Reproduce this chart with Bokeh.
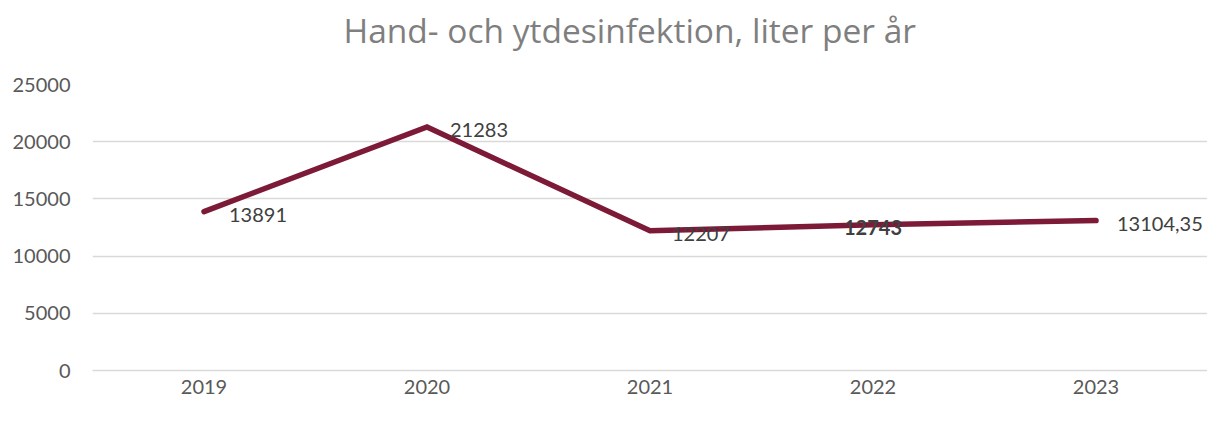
from bokeh.plotting import figure
from bokeh.models import ColumnDataSource, FixedTicker, Title
from bokeh.embed import file_html
from bokeh.resources import INLINE
from bokeh.core.properties import value

title_text = "Hand- och ytdesinfektion, liter per år"
years = ["2019", "2020", "2021", "2022", "2023"]
liters = [13891, 21283, 12207, 12743, 13104.35]
labels = ["13891", "21283", "12207", "12743", "13104,35"]
label_align = ["left", "left", "left", "center", "left"]
label_style = ["normal", "normal", "normal", "bold", "normal"]
label_dx = [25, 23, 22, 0, 21]
y_ticks = [0, 5000, 10000, 15000, 20000, 25000]

FONT = "Lato"

src = ColumnDataSource(dict(x=years, y=liters, lab=labels, al=label_align,
                            st=label_style, dx=label_dx))

p = figure(x_range=years, y_range=(0, 25000),
           frame_width=1115, frame_height=286,
           output_backend="svg", toolbar_location=None)
p.min_border_left = 92
p.min_border_right = 0
p.min_border_top = 84
p.min_border_bottom = 35
p.outline_line_color = None

# spacer between frame and title, then the title itself (outer)
p.add_layout(Title(text=" ", text_font_size="10px", standoff=19), "above")
p.add_layout(Title(text=title_text, align="left", offset=251, standoff=0,
                   text_font="Open Sans", text_font_size="33.5px",
                   text_font_style="normal", text_color="#7f7f7f"), "above")

p.line("x", "y", source=src, line_color="#7c1a37", line_width=5.5, line_cap="round", line_join="miter")

p.text("x", "y", text="lab", source=src, x_offset="dx", y_offset=3,
       text_align="al", text_baseline="middle", text_font=value(FONT),
       text_font_size="20px", text_color="#404040", text_font_style="st")

p.xgrid.grid_line_color = None
p.ygrid.grid_line_color = "#d9d9d9"
p.ygrid.grid_line_width = 1.5
p.yaxis.ticker = FixedTicker(ticks=y_ticks)

for ax in (p.xaxis[0], p.yaxis[0]):
    ax.major_tick_line_color = None
    ax.minor_tick_line_color = None
    ax.major_tick_out = 0
    ax.major_tick_in = 0
    ax.major_label_text_font = FONT
    ax.major_label_text_font_size = "20px"
    ax.major_label_text_color = "#595959"
p.yaxis.axis_line_color = None
p.yaxis.major_label_standoff = 22
p.xaxis.axis_line_color = "#d9d9d9"
p.xaxis.axis_line_width = 1.5
p.xaxis.major_label_standoff = 9

open("out.html", "w").write(file_html(p, INLINE))
